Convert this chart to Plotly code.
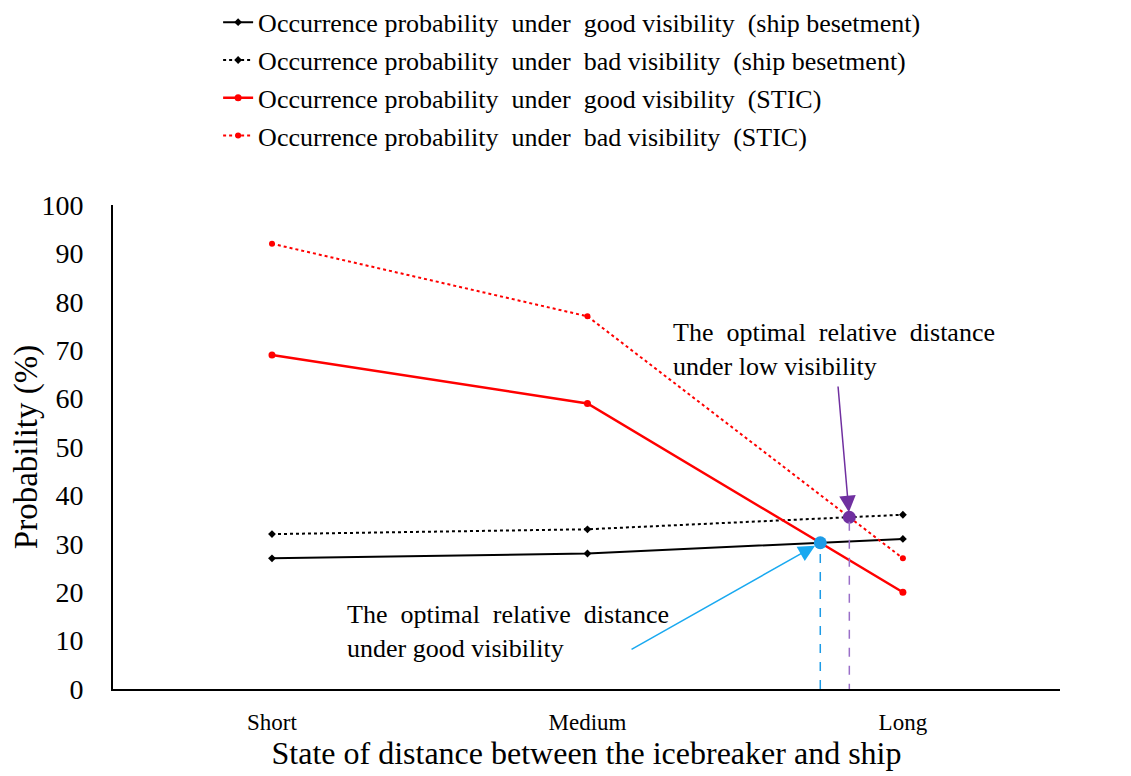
import plotly.graph_objects as go

# ---- data ----
categories = ["Short", "Medium", "Long"]
good_besetment = [27, 28, 31]   # black solid
bad_besetment = [32, 33, 36]    # black dotted
good_stic = [69, 59, 20]        # red solid
bad_stic = [92, 77, 27]         # red dotted
y_ticks = list(range(0, 101, 10))

names = [
    "Occurrence probability  under  good visibility  (ship besetment)",
    "Occurrence probability  under  bad visibility  (ship besetment)",
    "Occurrence probability  under  good visibility  (STIC)",
    "Occurrence probability  under  bad visibility  (STIC)",
]

x_pos = list(range(len(categories)))


def crossing(a, b, i):
    """Intersection of series a and b on segment i -> i+1."""
    d0 = a[i] - b[i]
    d1 = a[i + 1] - b[i + 1]
    t = d0 / (d0 - d1)
    return i + t, a[i] + t * (a[i + 1] - a[i])


xg, yg = crossing(good_stic, good_besetment, 1)
xb, yb = crossing(bad_stic, bad_besetment, 1)

FONT = "Liberation Serif, Times New Roman, serif"
BLUE = "#1C9BE6"
PURPLE = "#7030A0"

fig = go.Figure()

styles = [
    (good_besetment, "black", "solid", "diamond", 6, 2),
    (bad_besetment, "black", "dot", "diamond", 6, 2),
    (good_stic, "#FF0000", "solid", "circle", 7, 2.5),
    (bad_stic, "#FF0000", "dot", "circle", 6, 2),
]
for k, (vals, col, dash, sym, msize, lw) in enumerate(styles):
    fig.add_trace(go.Scatter(
        x=x_pos, y=vals, mode="lines+markers", name=names[k],
        legendgroup=f"g{k}",
        line=dict(color=col, dash=dash, width=lw),
        marker=dict(symbol=sym, size=msize, color=col),
    ))

# dashed drop lines
fig.add_shape(type="line", x0=xg, x1=xg, y0=0, y1=yg, xref="x", yref="y",
              line=dict(color=BLUE, width=1.5, dash="dash"))
fig.add_shape(type="line", x0=xb, x1=xb, y0=-0.8, y1=yb, xref="x", yref="y",
              line=dict(color="#9A6FC8", width=1.5, dash="dash"))

# optimal points
fig.add_trace(go.Scatter(x=[xg], y=[yg], mode="markers", showlegend=False,
                         marker=dict(size=13, color=BLUE)))
fig.add_trace(go.Scatter(x=[xb], y=[yb], mode="markers", showlegend=False,
                         marker=dict(size=13, color=PURPLE)))

# arrows
fig.add_annotation(x=xg, y=yg, ax=1.135, ay=8.0, xref="x", yref="y",
                   axref="x", ayref="y", text="", showarrow=True,
                   arrowhead=2, arrowsize=2.2, arrowwidth=1.5,
                   arrowcolor="#19A9F0", standoff=6)
fig.add_annotation(x=xb, y=yb, ax=1.794, ay=62.8, xref="x", yref="y",
                   axref="x", ayref="y", text="", showarrow=True,
                   arrowhead=2, arrowsize=2.2, arrowwidth=1.5,
                   arrowcolor=PURPLE, standoff=5)

# text labels
fig.add_annotation(x=0.231, y=18.8, xref="x", yref="y", xanchor="left",
                   yanchor="top", align="left", showarrow=False,
                   text="The  optimal  relative  distance<br>under good visibility",
                   font=dict(family=FONT, size=26, color="black"))
fig.add_annotation(x=1.265, y=77.0, xref="x", yref="y", xanchor="left",
                   yanchor="top", align="left", showarrow=False,
                   text="The  optimal  relative  distance<br>under low visibility",
                   font=dict(family=FONT, size=26, color="black"))

fig.update_layout(
    width=1131, height=776,
    margin=dict(l=105, r=79, t=197, b=95, autoexpand=False),
    paper_bgcolor="white", plot_bgcolor="white",
    font=dict(family=FONT, color="black"),
    legend=dict(x=0.111, y=1.426, xanchor="left", yanchor="top",
                font=dict(family=FONT, size=26, color="black"),
                tracegroupgap=1, bgcolor="rgba(0,0,0,0)"),
)

fig.update_xaxes(
    range=[-0.504, 2.498], tickvals=x_pos, ticktext=categories,
    showline=True, linecolor="black", linewidth=2, showgrid=False,
    zeroline=False, ticks="", ticklabelstandoff=11,
    tickfont=dict(family=FONT, size=23, color="black"),
    title=dict(text="State of distance between the icebreaker and ship",
               font=dict(family=FONT, size=32, color="black"), standoff=8),
)
fig.update_yaxes(
    range=[0, 100], tickvals=y_ticks,
    showline=True, linecolor="black", linewidth=2, showgrid=False,
    zeroline=False, ticks="", ticklabelstandoff=22,
    tickfont=dict(family=FONT, size=28, color="black"),
    title=dict(text="Probability (%)",
               font=dict(family=FONT, size=33, color="black"), standoff=10),
)

fig.write_html("out.html")
